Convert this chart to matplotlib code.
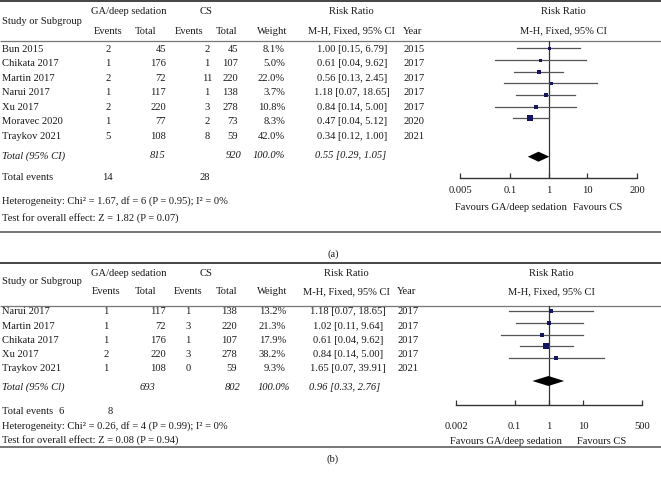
import matplotlib
matplotlib.use("Agg")
import matplotlib.pyplot as plt
import numpy as np

plt.rcParams['font.family'] = ['Liberation Serif', 'DejaVu Serif']
FS = 7.6
TXT = '#1a1a1a'

# ---------------- data panel (a) ----------------
a_studies = ["Bun 2015", "Chikata 2017", "Martin 2017", "Narui 2017", "Xu 2017", "Moravec 2020", "Traykov 2021"]
a_ga_events = [2, 1, 2, 1, 2, 1, 5]
a_ga_total = [45, 176, 72, 117, 220, 77, 108]
a_cs_events = [2, 1, 11, 1, 3, 2, 8]
a_cs_total = [45, 107, 220, 138, 278, 73, 59]
a_weight = [8.1, 5.0, 22.0, 3.7, 10.8, 8.3, 42.0]
a_rr = [1.00, 0.61, 0.56, 1.18, 0.84, 0.47, 0.34]
a_lo = [0.15, 0.04, 0.13, 0.07, 0.14, 0.04, 0.12]
a_hi = [6.79, 9.62, 2.45, 18.65, 5.00, 5.12, 1.00]
a_year = [2015, 2017, 2017, 2017, 2017, 2020, 2021]
a_tot = dict(ga_total=815, cs_total=920, weight="100.0%", rr=0.55, lo=0.29, hi=1.05,
             ga_events=14, cs_events=28)
a_het = "Heterogeneity: Chi\u00b2 = 1.67, df = 6 (P = 0.95); I\u00b2 = 0%"
a_test = "Test for overall effect: Z = 1.82 (P = 0.07)"
a_ticks = [0.005, 0.1, 1, 10, 200]
a_ticklabels = ["0.005", "0.1", "1", "10", "200"]

# ---------------- data panel (b) ----------------
b_studies = ["Narui 2017", "Martin 2017", "Chikata 2017", "Xu 2017", "Traykov 2021"]
b_ga_events = [1, 1, 1, 2, 1]
b_ga_total = [117, 72, 176, 220, 108]
b_cs_events = [1, 3, 1, 3, 0]
b_cs_total = [138, 220, 107, 278, 59]
b_weight = [13.2, 21.3, 17.9, 38.2, 9.3]
b_rr = [1.18, 1.02, 0.61, 0.84, 1.65]
b_lo = [0.07, 0.11, 0.04, 0.14, 0.07]
b_hi = [18.65, 9.64, 9.62, 5.00, 39.91]
b_year = [2017, 2017, 2017, 2017, 2021]
b_tot = dict(ga_total=693, cs_total=802, weight="100.0%", rr=0.96, lo=0.33, hi=2.76,
             ga_events=6, cs_events=8)
b_het = "Heterogeneity: Chi\u00b2 = 0.26, df = 4 (P = 0.99); I\u00b2 = 0%"
b_test = "Test for overall effect: Z = 0.08 (P = 0.94)"
b_ticks = [0.002, 0.1, 1, 10, 500]
b_ticklabels = ["0.002", "0.1", "1", "10", "500"]

W, H = 661, 480
fig = plt.figure(figsize=(W / 100, H / 100), dpi=100)
bg = fig.add_axes([0, 0, 1, 1])
bg.set_xlim(0, W)
bg.set_ylim(H, 0)
bg.axis('off')


def T(x, y, s, ha='left', italic=False):
    bg.text(x, y, s, ha=ha, va='center', fontsize=FS, color=TXT,
            style='italic' if italic else 'normal')


def hline(y, lw, c):
    bg.plot([0, W], [y, y], color=c, lw=lw, solid_capstyle='butt')


def fmt_rr(r, l, h):
    return f"{r:.2f} [{l:.2f}, {h:.2f}]"


def panel(L, studies, gae, gat, cse, cst, wt, rr, lo, hi, yr, tot, het, test,
          ticks, ticklabels, label):
    # rules
    hline(L['top'], 1.4, '#444444')
    hline(L['sep'], 0.9, '#777777')
    hline(L['bottom'], 1.4, '#777777')
    # headers
    T(129, L['h1'], "GA/deep sedation", 'center')
    T(206, L['h1'], "CS", 'center')
    T(L['rr_hc'], L['h1'], "Risk Ratio", 'center')
    T(L['fp_hc'], L['h1'], "Risk Ratio", 'center')
    T(2, L['hs'], "Study or Subgroup")
    T(L['ev1'], L['h2'], "Events", 'center')
    T(146, L['h2'], "Total", 'center')
    T(L['ev2'], L['h2'], "Events", 'center')
    T(227, L['h2'], "Total", 'center')
    T(272, L['h2'], "Weight", 'center')
    T(L['rr_hc'], L['h2'], "M-H, Fixed, 95% CI", 'center')
    T(L['yr_hc'], L['h2'], "Year", 'center')
    T(L['fp_hc'], L['h2'], "M-H, Fixed, 95% CI", 'center')
    # rows
    for i, s in enumerate(studies):
        y = L['row0'] + L['rstep'] * i
        T(2, y, s)
        T(L['ev1'], y, str(gae[i]), 'center')
        T(166, y, str(gat[i]), 'right')
        T(L['ev2d'], y, str(cse[i]), 'center')
        T(L['ct_r'], y, str(cst[i]), 'right')
        T(L['wt_r'], y, f"{wt[i]:.1f}%", 'right')
        T(L['rr_c'], y, fmt_rr(rr[i], lo[i], hi[i]), 'center')
        T(L['yr_l'], y, str(yr[i]))
    yt = L['tot']
    T(2, yt, "Total (95% Cl)" if label == "(b)" else "Total (95% CI)", italic=True)
    T(L['gt_x'], yt, str(tot['ga_total']), L['gt_ha'], italic=True)
    T(241, yt, str(tot['cs_total']), 'right', italic=True)
    T(L['wt_tr'], yt, tot['weight'], 'right', italic=True)
    T(L['rr_tc'], yt, fmt_rr(tot['rr'], tot['lo'], tot['hi']), 'center', italic=True)
    T(2, L['tev'], "Total events")
    T(L['te1'], L['tev'], str(tot['ga_events']), 'center')
    T(L['te2'], L['tev'], str(tot['cs_events']), 'center')
    T(2, L['het'], het)
    T(2, L['test'], test)
    T(333, L['lab'], label, 'center')

    # forest plot axes
    x0, x1 = L['fx']
    ytop, ybot = L['sep'], L['axis']
    fa = fig.add_axes([x0 / W, 1 - ybot / H, (x1 - x0) / W, (ybot - ytop) / H])
    fa.set_xscale('log')
    fa.set_xlim(ticks[0], ticks[-1])
    pos_top = (ytop - L['frow0']) / L['fstep']
    pos_bot = (ybot - L['frow0']) / L['fstep']
    fa.set_ylim(pos_bot, pos_top)
    fa.patch.set_alpha(0)
    for sp in ['top', 'left', 'right']:
        fa.spines[sp].set_visible(False)
    fa.spines['bottom'].set_color('#333333')
    fa.spines['bottom'].set_linewidth(1.0)
    fa.set_yticks([])
    fa.set_xticks(ticks)
    fa.set_xticklabels(ticklabels)
    fa.minorticks_off()
    fa.tick_params(axis='x', direction='in', length=3.5, width=0.9, color='#333333',
                   labelsize=FS, labelcolor=TXT, pad=L['tpad'])
    fa.axvline(1, color='#333333', lw=0.9, zorder=1)
    for i in range(len(rr)):
        fa.plot([lo[i], hi[i]], [i, i], color='#555555', lw=0.9, zorder=2)
        side_px = max(3.0, 1.05 * np.sqrt(wt[i]))
        fa.plot([rr[i]], [i], marker='s', ms=side_px * 0.72, color='#16165e',
                mec='#16165e', mew=0, zorder=3, clip_on=False)
    yd = (L['diam'] - L['frow0']) / L['fstep']
    hh = 5.0 / L['fstep']
    fa.fill([tot['lo'], tot['rr'], tot['hi'], tot['rr']], [yd, yd - hh, yd, yd + hh],
            color='black', lw=0, zorder=4)
    # favours
    T(L['fav1'], L['favy'], "Favours GA/deep sedation", 'right')
    T(L['fav2'], L['favy'], "Favours CS", 'left')


La = dict(top=1, sep=41, bottom=232, h1=11, hs=21, h2=31,
          rr_hc=351, fp_hc=563, yr_hc=413, ev1=108, ev2=189, ev2d=207,
          row0=49, rstep=14.6, ct_r=238, wt_r=285, rr_c=352, yr_l=403,
          tot=156, gt_x=166, gt_ha='right', wt_tr=285, rr_tc=351,
          tev=178, te1=107, te2=205, het=201, test=218, lab=254,
          fx=(460, 637), axis=178, frow0=48.3, fstep=11.7, diam=156.7,
          tpad=6, fav1=567, fav2=573, favy=208)
Lb = dict(top=263, sep=305.5, bottom=447, h1=273, hs=282, h2=292,
          rr_hc=346, fp_hc=551, yr_hc=407, ev1=106, ev2=188, ev2d=188,
          row0=312, rstep=14.1, ct_r=237, wt_r=286, rr_c=348, yr_l=397,
          tot=387, gt_x=147, gt_ha='center', wt_tr=290, rr_tc=345,
          tev=412, te1=61, te2=110, het=426, test=440, lab=459,
          fx=(456, 642), axis=405, frow0=311, fstep=11.75, diam=381,
          tpad=12, fav1=562, fav2=577, favy=441)

panel(La, a_studies, a_ga_events, a_ga_total, a_cs_events, a_cs_total, a_weight,
      a_rr, a_lo, a_hi, a_year, a_tot, a_het, a_test, a_ticks, a_ticklabels, "(a)")
panel(Lb, b_studies, b_ga_events, b_ga_total, b_cs_events, b_cs_total, b_weight,
      b_rr, b_lo, b_hi, b_year, b_tot, b_het, b_test, b_ticks, b_ticklabels, "(b)")

fig.savefig("out.png", dpi=100)
